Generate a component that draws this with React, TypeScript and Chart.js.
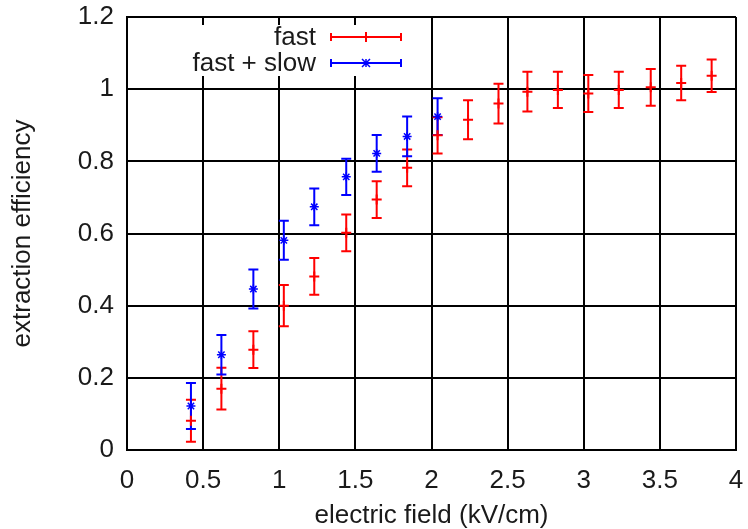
import React, { useEffect, useRef } from 'react';
import { Chart, registerables } from 'chart.js';

Chart.register(...registerables);

// ---- data ----
const seriesLabels = ['fast', 'fast + slow'];
const fieldFast = [0.42, 0.62, 0.83, 1.03, 1.23, 1.44, 1.64, 1.84, 2.04, 2.24, 2.44, 2.63, 2.83, 3.03, 3.23, 3.44, 3.64, 3.84];
const effFast = [0.081, 0.170, 0.278, 0.400, 0.481, 0.602, 0.694, 0.782, 0.872, 0.915, 0.960, 0.993, 0.998, 0.988, 0.998, 1.005, 1.017, 1.037];
const errFast = [0.058, 0.058, 0.051, 0.057, 0.051, 0.051, 0.051, 0.051, 0.050, 0.054, 0.055, 0.055, 0.050, 0.051, 0.050, 0.051, 0.048, 0.045];
const fieldFastSlow = [0.42, 0.62, 0.83, 1.03, 1.23, 1.44, 1.64, 1.84, 2.04];
const effFastSlow = [0.122, 0.264, 0.446, 0.581, 0.674, 0.757, 0.822, 0.869, 0.924];
const errFastSlow = [0.064, 0.055, 0.054, 0.054, 0.051, 0.050, 0.051, 0.055, 0.051];
const xTickValues = [0, 0.5, 1, 1.5, 2, 2.5, 3, 3.5, 4];
const yTickValues = [0, 0.2, 0.4, 0.6, 0.8, 1, 1.2];
const xAxisTitle = 'electric field (kV/cm)';
const yAxisTitle = 'extraction efficiency';

const seriesColors = ['#ff0000', '#0000ff'];
const FONT_FAMILY = "'Liberation Sans', Arial, Helvetica, sans-serif";
const FONT_SIZE = 26;
const TEXT_COLOR = '#1a1a1a';

const errorSets = [
  { xs: fieldFast, ys: effFast, es: errFast },
  { xs: fieldFastSlow, ys: effFastSlow, es: errFastSlow },
];

function drawMarker(ctx: CanvasRenderingContext2D, idx: number, cx: number, cy: number) {
  ctx.beginPath();
  if (idx === 0) {
    ctx.moveTo(cx - 5, cy); ctx.lineTo(cx + 5, cy);
    ctx.moveTo(cx, cy - 5); ctx.lineTo(cx, cy + 5);
  } else {
    const r = 4;
    ctx.moveTo(cx - r, cy - r); ctx.lineTo(cx + r, cy + r);
    ctx.moveTo(cx - r, cy + r); ctx.lineTo(cx + r, cy - r);
    ctx.moveTo(cx - r, cy); ctx.lineTo(cx + r, cy);
    ctx.moveTo(cx, cy - r); ctx.lineTo(cx, cy + r);
  }
  ctx.stroke();
}

const errorBarPlugin = {
  id: 'errorBarsAndKey',
  beforeDatasetsDraw(chart: any) {
    const { ctx, scales } = chart;
    const xs = scales.x, ys = scales.y;
    // opaque key background (hides grid lines behind the key)
    ctx.save();
    ctx.fillStyle = '#ffffff';
    ctx.fillRect(178, 25, 240, 51);
    ctx.restore();
    // error bars
    errorSets.forEach((set, di) => {
      ctx.save();
      ctx.strokeStyle = seriesColors[di];
      ctx.lineWidth = 2;
      ctx.beginPath();
      set.xs.forEach((xv, i) => {
        const px = xs.getPixelForValue(xv);
        const top = ys.getPixelForValue(set.ys[i] + set.es[i]);
        const bot = ys.getPixelForValue(set.ys[i] - set.es[i]);
        ctx.moveTo(px, top); ctx.lineTo(px, bot);
        ctx.moveTo(px - 5, top); ctx.lineTo(px + 5, top);
        ctx.moveTo(px - 5, bot); ctx.lineTo(px + 5, bot);
      });
      ctx.stroke();
      ctx.restore();
    });
  },
  afterDatasetsDraw(chart: any) {
    const { ctx } = chart;
    const rowsY = [37, 63];
    const textRight = 316;
    const sampleL = 331, sampleR = 401;
    ctx.save();
    ctx.font = `${FONT_SIZE}px ${FONT_FAMILY}`;
    ctx.textAlign = 'right';
    ctx.textBaseline = 'middle';
    seriesLabels.forEach((label, i) => {
      const y = rowsY[i];
      ctx.fillStyle = TEXT_COLOR;
      ctx.fillText(label, textRight, y + 1);
      ctx.strokeStyle = seriesColors[i];
      ctx.lineWidth = 2;
      ctx.beginPath();
      ctx.moveTo(sampleL, y); ctx.lineTo(sampleR, y);
      ctx.moveTo(sampleL, y - 4); ctx.lineTo(sampleL, y + 4);
      ctx.moveTo(sampleR, y - 4); ctx.lineTo(sampleR, y + 4);
      ctx.stroke();
      ctx.lineWidth = i === 0 ? 2 : 1.5;
      drawMarker(ctx, i, (sampleL + sampleR) / 2, y);
    });
    ctx.restore();
  },
};

export default function App() {
  const canvasRef = useRef<HTMLCanvasElement | null>(null);

  useEffect(() => {
    const canvas = canvasRef.current;
    if (!canvas) return;
    const font = { family: FONT_FAMILY, size: FONT_SIZE };
    const chart = new Chart(canvas, {
      type: 'scatter',
      data: {
        datasets: [
          {
            label: seriesLabels[0],
            data: fieldFast.map((x, i) => ({ x, y: effFast[i] })),
            borderColor: seriesColors[0],
            backgroundColor: seriesColors[0],
            pointStyle: 'cross',
            pointRadius: 5,
            pointBorderWidth: 2,
            showLine: false,
            order: 1,
          },
          {
            label: seriesLabels[1],
            data: fieldFastSlow.map((x, i) => ({ x, y: effFastSlow[i] })),
            borderColor: seriesColors[1],
            backgroundColor: seriesColors[1],
            pointStyle: 'star',
            pointRadius: 4.5,
            pointBorderWidth: 1.5,
            showLine: false,
            order: 0,
          },
        ],
      },
      options: {
        animation: false,
        responsive: false,
        maintainAspectRatio: false,
        events: [],
        layout: { autoPadding: false, padding: { left: 0, top: 17, right: 12, bottom: 0 } },
        plugins: { legend: { display: false }, tooltip: { enabled: false } },
        scales: {
          x: {
            type: 'linear',
            min: 0,
            max: 4,
            afterBuildTicks: (s: any) => { s.ticks = xTickValues.map((v) => ({ value: v })); },
            afterFit: (s: any) => { s.height = 79; s.paddingLeft = 0; s.paddingRight = 0; },
            grid: { color: '#000', lineWidth: 2, drawTicks: false },
            border: { display: true, color: '#000', width: 2 },
            ticks: {
              font, color: TEXT_COLOR, padding: 15, maxRotation: 0, autoSkip: false,
              callback: (v: any) => String(Number(Number(v).toFixed(2))),
            },
            title: {
              display: true, text: xAxisTitle, color: TEXT_COLOR,
              font: { ...font, lineHeight: 1 }, padding: { top: 0, bottom: 0 },
            },
          },
          y: {
            type: 'linear',
            min: 0,
            max: 1.2,
            afterBuildTicks: (s: any) => { s.ticks = yTickValues.map((v) => ({ value: v })); },
            afterFit: (s: any) => { s.width = 127; s.paddingTop = 0; s.paddingBottom = 0; },
            grid: { color: '#000', lineWidth: 2, drawTicks: false },
            border: { display: true, color: '#000', width: 2 },
            ticks: {
              font, color: TEXT_COLOR, padding: 13, autoSkip: false,
              callback: (v: any) => String(Number(Number(v).toFixed(2))),
            },
            title: {
              display: true, text: yAxisTitle, color: TEXT_COLOR,
              font: { ...font, lineHeight: 1 }, padding: { top: 10, bottom: 0 },
            },
          },
        },
      },
      plugins: [errorBarPlugin],
    } as any);
    return () => chart.destroy();
  }, []);

  return (
    <div style={{ position: 'absolute', left: 0, top: 0, width: 748, height: 529, background: '#fff' }}>
      <canvas ref={canvasRef} width={748} height={529} style={{ display: 'block' }} />
    </div>
  );
}
